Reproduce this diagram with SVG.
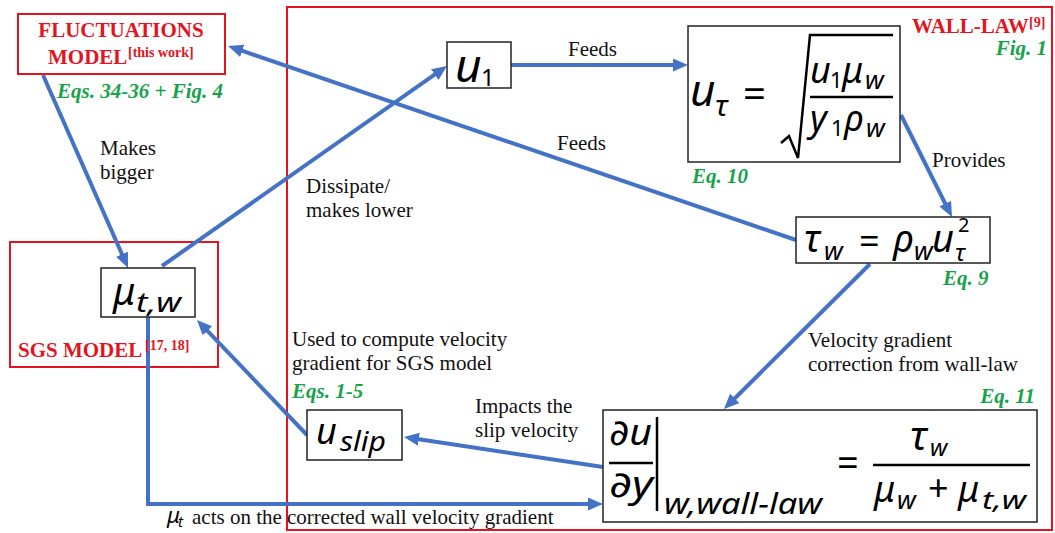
<svg xmlns="http://www.w3.org/2000/svg" width="1055" height="533" viewBox="0 0 1055 533">
<style>
.lbl{font-family:"Liberation Serif",serif;font-size:21px;fill:#111}
.red{font-family:"Liberation Serif",serif;font-weight:bold;fill:#E3141F;font-size:21px}
.sup{font-family:"Liberation Serif",serif;font-weight:bold;fill:#E3141F;font-size:14px}
.grn{font-family:"Liberation Serif",serif;font-weight:bold;font-style:italic;fill:#17A34A;font-size:21px}
.m{font-family:"Noto Sans","DejaVu Sans",sans-serif;font-style:italic;fill:#000}
.n{font-family:"Noto Sans","DejaVu Sans",sans-serif;fill:#000}
.box{fill:#fff;stroke:#222;stroke-width:1.5}
.frame{fill:none;stroke:#E3141F;stroke-width:2}
.conn{stroke:#4472C4;stroke-width:4;fill:none}
.rule{stroke:#000;stroke-width:2.5;fill:none}
</style>
<defs>
<marker id="ah" markerUnits="userSpaceOnUse" markerWidth="16" markerHeight="14" refX="5" refY="6.5" orient="auto">
<path d="M0,0 L15,6.5 L0,13 z" fill="#4472C4"/>
</marker>
</defs>
<rect width="1055" height="533" fill="#fff"/>

<g id="frames">
<rect class="frame" x="287" y="7" width="765" height="523" stroke-width="1.6"/>
<rect class="frame" x="10" y="242" width="208" height="125"/>
</g>

<g id="connectors">
<line class="conn" x1="43" y1="75" x2="124" y2="258.8" marker-end="url(#ah)"/>
<line class="conn" x1="162" y1="266" x2="438.8" y2="71.7" marker-end="url(#ah)"/>
<line class="conn" x1="511" y1="65" x2="678" y2="65" marker-end="url(#ah)"/>
<line class="conn" x1="901" y1="115" x2="947.5" y2="208.1" marker-end="url(#ah)"/>
<line class="conn" x1="796" y1="240" x2="237.5" y2="49.2" marker-end="url(#ah)"/>
<line class="conn" x1="870" y1="264" x2="731.1" y2="402" marker-end="url(#ah)"/>
<line class="conn" x1="603" y1="467" x2="413.9" y2="438.5" marker-end="url(#ah)"/>
<line class="conn" x1="307" y1="435" x2="203.9" y2="327.2" marker-end="url(#ah)"/>
<polyline class="conn" points="148,317 148,504 593,504" marker-end="url(#ah)"/>
</g>

<g id="labels">
<text class="lbl" x="568" y="56">Feeds</text>
<text class="lbl" x="557" y="150">Feeds</text>
<text class="lbl" x="100" y="155">Makes</text>
<text class="lbl" x="100" y="179">bigger</text>
<text class="lbl" x="306" y="193">Dissipate/</text>
<text class="lbl" x="306" y="217">makes lower</text>
<text class="lbl" x="932" y="167">Provides</text>
<text class="lbl" x="292" y="346">Used to compute velocity</text>
<text class="lbl" x="292" y="370">gradient for SGS model</text>
<text class="grn" x="292" y="398">Eqs. 1-5</text>
<text class="lbl" x="475" y="413">Impacts the</text>
<text class="lbl" x="475" y="437">slip velocity</text>
<text class="lbl" x="808" y="347">Velocity gradient</text>
<text class="lbl" x="808" y="371">correction from wall-law</text>
<text class="m" x="167" y="523" font-size="22">μ</text>
<text class="m" x="178" y="527" font-size="15">t</text>
<text class="lbl" x="192" y="524">acts on the corrected wall velocity gradient</text>
<text class="red" x="912" y="33">WALL-LAW</text>
<text class="sup" x="1029" y="27">[9]</text>
<text class="grn" x="1047" y="55" text-anchor="end">Fig. 1</text>
</g>

<g id="fluct">
<rect class="frame" x="18" y="14" width="207" height="60"/>
<text class="red" x="121" y="37" text-anchor="middle">FLUCTUATIONS</text>
<text class="red" x="48" y="64">MODEL</text>
<text class="sup" x="128" y="57">[this work]</text>
<text class="grn" x="57" y="98">Eqs. 34-36 + Fig. 4</text>
</g>

<g id="sgs">
<text class="red" x="18" y="357">SGS MODEL</text>
<text class="sup" x="145" y="350">[17, 18]</text>
</g>

<g id="mu_tw">
<rect class="box" x="101" y="268" width="94" height="49"/>
<text class="m" x="113" y="305" font-size="38">μ</text>
<text class="m" x="136" y="312" font-size="27" textLength="45" lengthAdjust="spacingAndGlyphs">t,w</text>
</g>

<g id="u1">
<rect class="box" x="447" y="42" width="64" height="46"/>
<text class="m" x="455" y="82" font-size="46">u</text>
<text class="n" x="481" y="86" font-size="24">1</text>
</g>

<g id="utau">
<rect class="box" x="688" y="26" width="212" height="136"/>
<text class="m" x="690" y="106" font-size="44">u</text>
<text class="m" x="715" y="116" font-size="30">τ</text>
<text class="n" x="743" y="108" font-size="40">=</text>
<path class="rule" d="M781,143 L789,136 L798,158 L810,35 L893,35"/>
<text class="m" x="810" y="83" font-size="36">u</text>
<text class="n" x="830" y="88" font-size="22">1</text>
<text class="m" x="842" y="83" font-size="36">μ</text>
<text class="m" x="865" y="89" font-size="26">w</text>
<line class="rule" x1="810" y1="97" x2="893" y2="97" stroke-width="3"/>
<text class="m" x="810" y="131" font-size="36">y</text>
<text class="n" x="831" y="136" font-size="22">1</text>
<text class="m" x="844" y="131" font-size="36">ρ</text>
<text class="m" x="866" y="137" font-size="26">w</text>
<text class="grn" x="692" y="183">Eq. 10</text>
</g>

<g id="tauw">
<rect class="box" x="796" y="217" width="194" height="46"/>
<text class="m" x="804" y="252" font-size="38">τ</text>
<text class="m" x="824" y="260" font-size="26">w</text>
<text class="n" x="859" y="254" font-size="36">=</text>
<text class="m" x="893" y="252" font-size="38">ρ</text>
<text class="m" x="914" y="260" font-size="26">w</text>
<text class="m" x="932" y="252" font-size="38">u</text>
<text class="n" x="958" y="232" font-size="20">2</text>
<text class="m" x="955" y="261" font-size="24">τ</text>
<text class="grn" x="943" y="285">Eq. 9</text>
</g>

<g id="uslip">
<rect class="box" x="307" y="410" width="95" height="50"/>
<text class="m" x="316" y="444" font-size="36">u</text>
<text class="m" x="340" y="451" font-size="28" textLength="46" lengthAdjust="spacingAndGlyphs">slip</text>
</g>

<g id="gradeq">
<rect class="box" x="603" y="410" width="434" height="112"/>
<text class="grn" x="1035" y="403" text-anchor="end">Eq. 11</text>
<text class="m" x="609" y="445" font-size="36" textLength="43" lengthAdjust="spacingAndGlyphs">∂u</text>
<line class="rule" x1="609" y1="463" x2="653" y2="463"/>
<text class="m" x="609" y="497" font-size="36" textLength="44" lengthAdjust="spacingAndGlyphs">∂y</text>
<line class="rule" x1="657" y1="417" x2="657" y2="511" stroke-width="3"/>
<text class="m" x="664" y="514" font-size="29" textLength="158" lengthAdjust="spacingAndGlyphs">w,wall−law</text>
<text class="n" x="837" y="476" font-size="38">=</text>
<text class="m" x="910" y="450" font-size="40">τ</text>
<text class="m" x="930" y="456" font-size="24">w</text>
<line class="rule" x1="873" y1="465" x2="1030" y2="465"/>
<text class="m" x="874" y="502" font-size="36">μ</text>
<text class="m" x="897" y="509" font-size="26">w</text>
<text class="n" x="928" y="501" font-size="36">+</text>
<text class="m" x="958" y="502" font-size="36">μ</text>
<text class="m" x="982" y="509" font-size="26" textLength="44" lengthAdjust="spacingAndGlyphs">t,w</text>
</g>
</svg>
